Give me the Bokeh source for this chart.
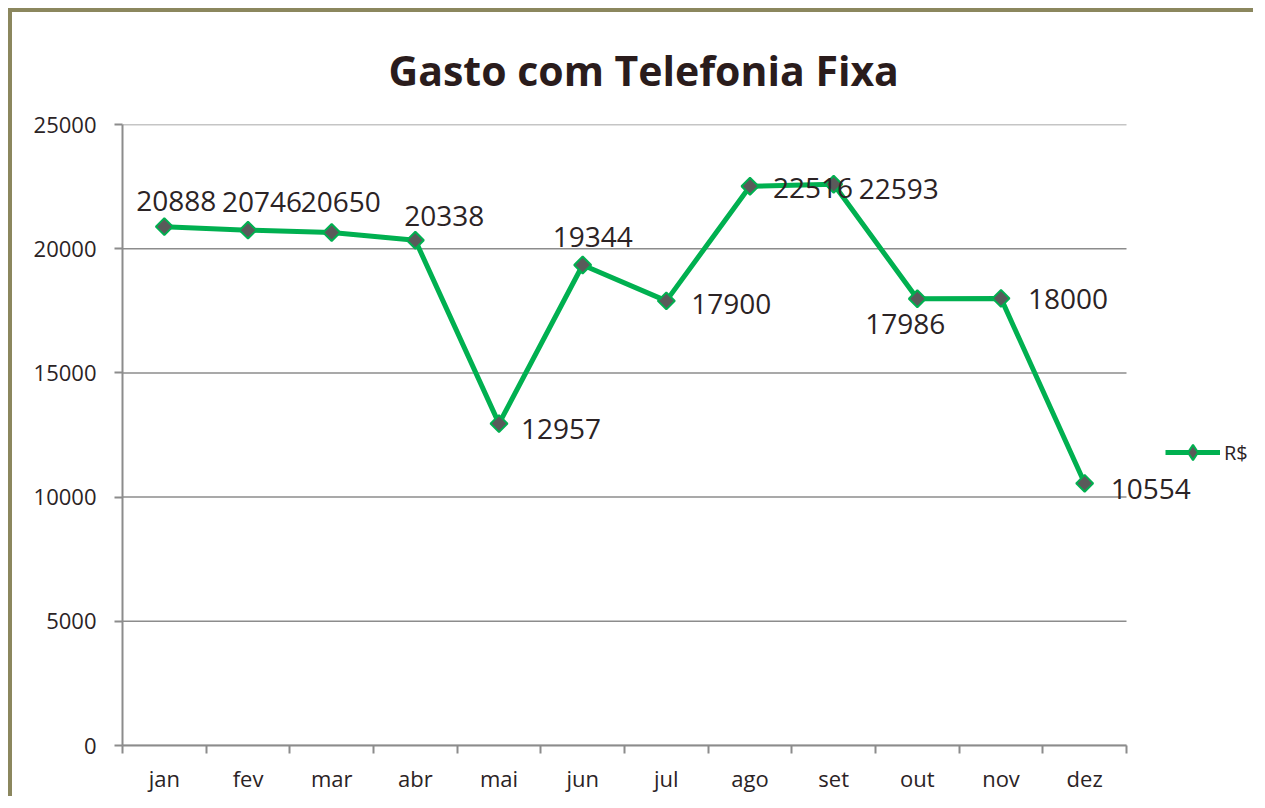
import numpy as np
from bokeh.plotting import figure
from bokeh.models import (Range1d, FixedTicker, LabelSet, ColumnDataSource,
                          Legend, LegendItem, Title)
from bokeh.core.properties import value
from bokeh.embed import file_html
from bokeh.resources import INLINE

# ---- data ----
months = ["jan", "fev", "mar", "abr", "mai", "jun", "jul", "ago", "set", "out", "nov", "dez"]
values = [20888, 20746, 20650, 20338, 12957, 19344, 17900, 22516, 22593, 17986, 18000, 10554]
y_ticks = [0, 5000, 10000, 15000, 20000, 25000]
series_name = "R$"
title_text = "Gasto com Telefonia Fixa"

# label offsets in screen px (dx right, dy up) -- styling only
label_dx = [12, 14, 9, 29, 62, 10, 65, 63, 65, -12, 67, 66]
label_dy = [26, 28, 31, 24, -5, 28, -3, -2, -5, -25, -1, -6]

GREEN = "#00b050"
GRAY = "#8c8c8c"
TXT = "#2b2325"
FONT = "Open Sans"

n = len(months)
xc = [i + 0.5 for i in range(n)]

W, H = 1245, 788
BL, BT, BR, BB = 110, 112, 0, 55
frame_w = W - BL - BR
x_end = n * frame_w / 1004.0

p = figure(width=W, height=H, output_backend="svg", toolbar_location=None,
           x_range=Range1d(0, x_end), y_range=Range1d(0, 25000),
           min_border_left=BL, min_border_top=BT, min_border_right=BR,
           min_border_bottom=BB)
p.styles = {"margin": "8px 0 0 8px",
            "border-left": "4px solid #8b875e", "border-top": "4px solid #8b875e"}
p.outline_line_color = None
p.background_fill_color = "white"
p.border_fill_color = "white"

t = Title(text=title_text, align="left", offset=266, text_font=FONT,
          text_font_size="41px", text_font_style="bold", text_color="#2a1c1c",
          standoff=50, vertical_align="top", text_line_height=0.7)
p.add_layout(t, "above")

# x axis
p.xaxis.bounds = (0, n)
p.xaxis.ticker = FixedTicker(ticks=xc, minor_ticks=list(range(n + 1)))
p.xaxis.major_label_overrides = {xv: m for xv, m in zip(xc, months)}
p.xaxis.major_tick_line_color = None
p.xaxis.minor_tick_in = 0
p.xaxis.minor_tick_out = 8
p.xaxis.minor_tick_line_color = GRAY
p.xaxis.minor_tick_line_width = 2
p.xaxis.axis_line_color = GRAY
p.xaxis.axis_line_width = 2
p.xaxis.major_label_text_font = FONT
p.xaxis.major_label_text_font_size = "22px"
p.xaxis.major_label_text_color = TXT
p.xaxis.major_label_standoff = 9
p.xgrid.grid_line_color = None
p.ygrid.grid_line_color = None

# y axis
p.yaxis.ticker = FixedTicker(ticks=y_ticks)
p.yaxis.minor_tick_line_color = None
p.yaxis.major_tick_in = 0
p.yaxis.major_tick_out = 8
p.yaxis.major_tick_line_color = GRAY
p.yaxis.major_tick_line_width = 2
p.yaxis.axis_line_color = GRAY
p.yaxis.axis_line_width = 2
p.yaxis.major_label_text_font = FONT
p.yaxis.major_label_text_font_size = "22px"
p.yaxis.major_label_text_color = TXT
p.yaxis.major_label_standoff = 18

# horizontal gridlines limited to the category span
p.segment(x0=[0] * len(y_ticks), x1=[n] * len(y_ticks), y0=y_ticks, y1=y_ticks,
          line_color=GRAY, line_width=1.5, level="underlay")

src = ColumnDataSource(dict(x=xc, y=values, lab=[str(v) for v in values],
                            dx=label_dx, dy=label_dy))

ln = p.line("x", "y", source=src, line_color=GREEN, line_width=5)
# diamond glyph used for the legend entry (legend glyphs ignore angle); hidden under the markers
mk_leg = p.scatter("x", "y", source=src, marker="diamond", size=10,
                   fill_color="#5a5a5a", line_color=GREEN, line_width=2)
mk = p.scatter("x", "y", source=src, marker="square", size=12, angle=np.pi / 4,
               fill_color="#5a5a5a", line_color=GREEN, line_width=2)

labels = LabelSet(x="x", y="y", text="lab", source=src, x_offset="dx", y_offset="dy",
                  text_align="center", text_baseline="middle", text_font=value(FONT),
                  text_font_size=value("28px"), text_color=TXT)
p.add_layout(labels)

legend = Legend(items=[LegendItem(label=series_name, renderers=[ln, mk_leg])],
                location=(1043, 274), glyph_width=55, glyph_height=38,
                padding=0, spacing=0, margin=0, label_standoff=4,
                label_text_font=FONT, label_text_font_size="20px",
                label_text_color=TXT, border_line_color=None,
                background_fill_alpha=0)
p.add_layout(legend)

open("out.html", "w").write(file_html(p, INLINE))
